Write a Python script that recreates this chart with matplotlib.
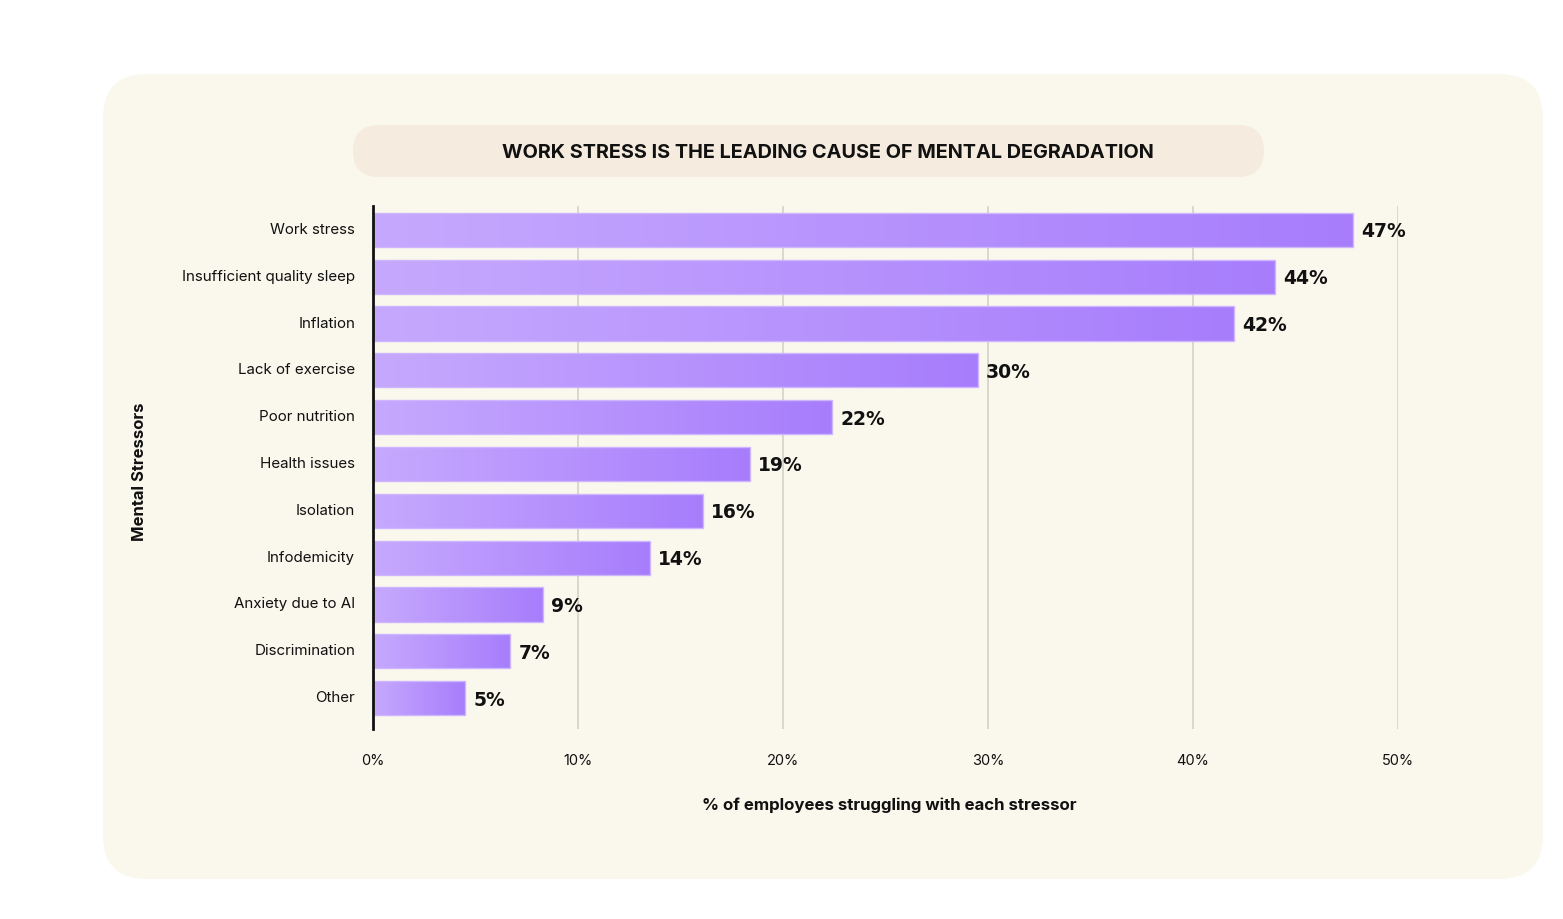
import matplotlib
matplotlib.use("Agg")
import matplotlib.pyplot as plt
import numpy as np
from matplotlib.patches import FancyBboxPatch
from matplotlib.colors import LinearSegmentedColormap

categories = ["Work stress", "Insufficient quality sleep", "Inflation", "Lack of exercise",
              "Poor nutrition", "Health issues", "Isolation", "Infodemicity",
              "Anxiety due to AI", "Discrimination", "Other"]
bar_values = [47.8, 44.0, 42.0, 29.5, 22.4, 18.4, 16.1, 13.5, 8.3, 6.7, 4.5]
value_labels = ["47%", "44%", "42%", "30%", "22%", "19%", "16%", "14%", "9%", "7%", "5%"]
x_ticks = [0, 10, 20, 30, 40, 50]
x_tick_labels = ["0%", "10%", "20%", "30%", "40%", "50%"]

title = "WORK STRESS IS THE LEADING CAUSE OF MENTAL DEGRADATION"
xlabel = "% of employees struggling with each stressor"
ylabel = "Mental Stressors"

W, H = 1563, 920
fig = plt.figure(figsize=(W / 100, H / 100), dpi=100)
fig.patch.set_facecolor("white")

def fx(px):
    return px / W

def fy(py):
    return 1 - py / H

# cream panel
panel = FancyBboxPatch((fx(103), fy(880)), fx(1543) - fx(103), fy(75) - fy(880),
                       boxstyle="round,pad=0,rounding_size=0.028", transform=fig.transFigure,
                       facecolor="#faf7ec", edgecolor="none", zorder=-3,
                       mutation_aspect=W / H)
fig.patches.append(panel)

# title pill
pill = FancyBboxPatch((fx(353), fy(178)), fx(1264) - fx(353), fy(126) - fy(178),
                      boxstyle="round,pad=0,rounding_size=0.0166", transform=fig.transFigure,
                      facecolor="#f5ecdf", edgecolor="none", zorder=-2,
                      mutation_aspect=W / H)
fig.patches.append(pill)
fig.text(fx(828), fy(153), title, ha="center", va="center", fontsize=14.3,
         fontweight="bold", family=["Inter", "DejaVu Sans"], color="#111111", zorder=2)

ax = fig.add_axes([fx(373), fy(730), fx(1398) - fx(373), fy(207) - fy(730)])
ax.set_facecolor("none")

n = len(categories)
ypos = np.arange(n)
bar_h = 0.73
bars = ax.barh(ypos, bar_values, height=bar_h, color="none", edgecolor="#cdb6ff",
               linewidth=1.0, zorder=3)

cmap = LinearSegmentedColormap.from_list("grad", ["#c6a9fe", "#a77dfc"])
grad = np.linspace(0, 1, 256).reshape(1, -1)
for b in bars:
    x0, y0 = b.get_x(), b.get_y()
    w, h = b.get_width(), b.get_height()
    im = ax.imshow(grad, extent=[x0, x0 + w, y0 + h, y0], aspect="auto", cmap=cmap,
                   zorder=2, interpolation="bicubic")
    im.set_clip_path(b)

ax.set_xlim(0, 50)
ax.set_ylim(n - 1 + 0.66, -0.51)

ax.set_xticks(x_ticks)
ax.set_xticklabels(x_tick_labels, family=["Inter", "DejaVu Sans"], fontsize=10.5, color="#111111")
ax.tick_params(axis="x", length=0, pad=17)
ax.set_yticks([])
ax.grid(axis="x", color="#d3d1c8", linewidth=1.2, zorder=1)
ax.set_axisbelow(True)
for s in ["top", "right", "bottom"]:
    ax.spines[s].set_visible(False)
ax.spines["left"].set_color("#111111")
ax.spines["left"].set_linewidth(2)
ax.spines["left"].set_zorder(5)

for i, (cat, v, lab) in enumerate(zip(categories, bar_values, value_labels)):
    ax.annotate(cat, xy=(0, i), xycoords=("axes fraction", "data"), xytext=(-18, 1),
                textcoords="offset pixels", ha="right", va="center", fontsize=10.9,
                family=["Inter", "DejaVu Sans"], color="#111111")
    ax.annotate(lab, xy=(v, i), xytext=(8, -1), textcoords="offset pixels",
                ha="left", va="center", fontsize=13.5, fontweight="bold",
                family=["DejaVu Sans"], color="#111111")

fig.text(fx(889), fy(805), xlabel, ha="center", va="center", fontsize=12.1,
         fontweight="bold", family=["Inter", "DejaVu Sans"], color="#111111")
fig.text(fx(140), fy(472), ylabel, ha="center", va="center", rotation=90, fontsize=12,
         fontweight="bold", family=["Inter", "DejaVu Sans"], color="#111111")

fig.savefig("out.png", dpi=100, facecolor="white")
